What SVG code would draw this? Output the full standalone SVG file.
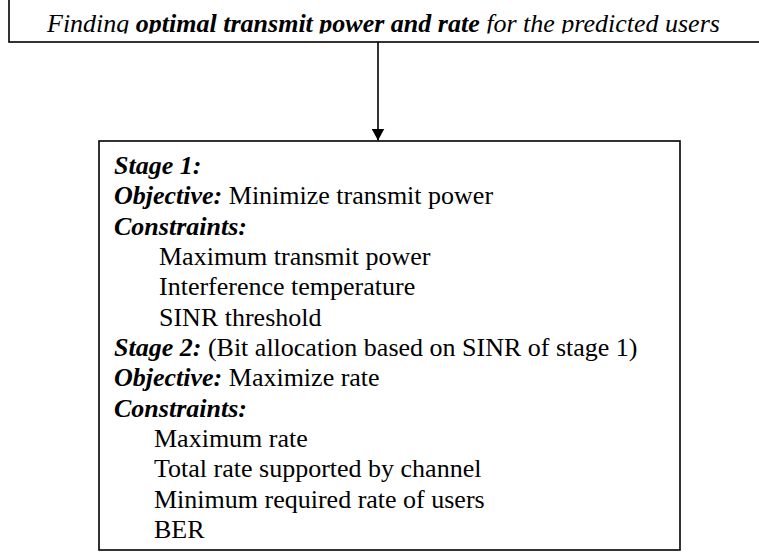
<svg xmlns="http://www.w3.org/2000/svg" width="759" height="554" viewBox="0 0 759 554">
  <style>
    .box { fill: #ffffff; stroke: #000000; stroke-width: 1.6; }
    .txt { font-family: "Liberation Serif", "Times New Roman", serif; font-size: 26px; fill: #000000; }
    .it { font-style: italic; }
    .bi { font-style: italic; font-weight: bold; }
    .edge { stroke: #000000; stroke-width: 1.6; fill: none; }
  </style>
  <defs>
    <marker id="arrowhead" viewBox="0 0 12 13" refX="12" refY="6.5" markerWidth="12" markerHeight="13" markerUnits="userSpaceOnUse" orient="auto">
      <path d="M0,0 L12,6.5 L0,13 Z" fill="#000000"/>
    </marker>
    <!-- the goal text is cut off just below its baseline -->
    <clipPath id="goal-clip">
      <rect x="9" y="0" width="750" height="33.5"/>
    </clipPath>
  </defs>
  <rect width="759" height="554" fill="#ffffff"/>

  <!-- Top node: overall goal (box runs past the top and right edges) -->
  <g id="goal">
    <rect class="box" x="9" y="-10" width="760" height="52"/>
    <text class="txt it" x="47" y="31.5" clip-path="url(#goal-clip)">Finding <tspan class="bi">optimal transmit power and rate</tspan> for the predicted users</text>
  </g>

  <!-- Connector -->
  <g id="connectors">
    <line class="edge" x1="378" y1="42" x2="378" y2="140.5" marker-end="url(#arrowhead)"/>
  </g>

  <!-- Bottom node: two-stage optimisation -->
  <g id="stages">
    <rect class="box" x="99" y="141" width="581" height="409"/>
    <text class="txt bi" x="114" y="174">Stage 1:</text>
    <text class="txt" x="114" y="204.3"><tspan class="bi">Objective:</tspan> Minimize transmit power</text>
    <text class="txt bi" x="114" y="234.7">Constraints:</text>
    <text class="txt" x="159" y="265">Maximum transmit power</text>
    <text class="txt" x="159" y="295.3">Interference temperature</text>
    <text class="txt" x="159" y="325.7">SINR threshold</text>
    <text class="txt" x="114" y="356"><tspan class="bi">Stage 2:</tspan> (Bit allocation based on SINR of stage 1)</text>
    <text class="txt" x="114" y="386.3"><tspan class="bi">Objective:</tspan> Maximize rate</text>
    <text class="txt bi" x="114" y="416.7">Constraints:</text>
    <text class="txt" x="154" y="447">Maximum rate</text>
    <text class="txt" x="154" y="477.3">Total rate supported by channel</text>
    <text class="txt" x="154" y="507.7">Minimum required rate of users</text>
    <text class="txt" x="154" y="538">BER</text>
  </g>
</svg>
